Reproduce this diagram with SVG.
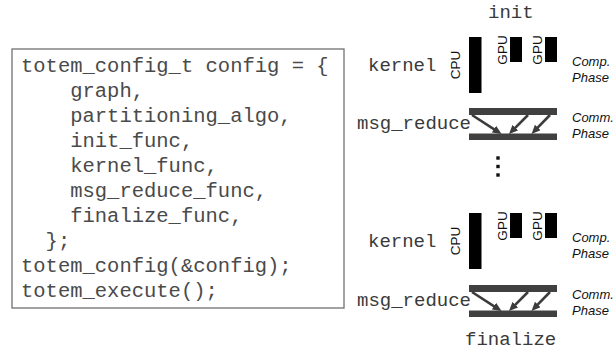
<svg xmlns="http://www.w3.org/2000/svg" width="616" height="351" viewBox="0 0 616 351">
  <style>
    .code { font-family: "Liberation Mono", "Courier New", monospace; font-size: 20.5px; fill: #4a4a4a; white-space: pre; }
    .fn { font-family: "Liberation Mono", "Courier New", monospace; font-size: 19px; fill: #3a3a3a; white-space: pre; }
    .dev { font-family: "Liberation Sans", Arial, sans-serif; font-size: 13.5px; fill: #111; text-anchor: middle; }
    .phase { font-family: "Liberation Sans", Arial, sans-serif; font-size: 13px; font-style: italic; fill: #111; }
    .bar { fill: #000; }
    .rbar { fill: #404040; }
    .flow { stroke: #3c3c3c; stroke-width: 2.6; fill: none; marker-end: url(#head); }
  </style>
  <defs>
    <marker id="head" markerUnits="userSpaceOnUse" viewBox="0 -4 9 8" refX="3" refY="0" markerWidth="9" markerHeight="8" orient="auto">
      <path d="M0,-4 L9,0 L0,4 z" fill="#3c3c3c"/>
    </marker>
  </defs>

  <rect width="616" height="351" fill="#fff"/>

  <!-- configuration listing -->
  <g id="code">
    <rect x="12" y="49" width="332" height="259" fill="#fff" stroke="#707070" stroke-width="1.3"/>
    <text class="code" x="21" y="72">totem_config_t config = {</text>
    <text class="code" x="21" y="97">    graph,</text>
    <text class="code" x="21" y="122">    partitioning_algo,</text>
    <text class="code" x="21" y="147">    init_func,</text>
    <text class="code" x="21" y="172">    kernel_func,</text>
    <text class="code" x="21" y="197">    msg_reduce_func,</text>
    <text class="code" x="21" y="222">    finalize_func,</text>
    <text class="code" x="21" y="247">  };</text>
    <text class="code" x="21" y="272">totem_config(&amp;config);</text>
    <text class="code" x="21" y="297">totem_execute();</text>
  </g>

  <g id="init">
    <text class="fn" x="488" y="18">init</text>
  </g>

  <!-- first superstep: computation -->
  <g id="kernel-1">
    <text class="fn" x="368" y="71">kernel</text>
    <text class="dev" transform="translate(460,65) rotate(-90)">CPU</text>
    <rect class="bar" x="469" y="37" width="12.5" height="56"/>
    <text class="dev" transform="translate(507,50) rotate(-90)">GPU</text>
    <rect class="bar" x="510" y="37" width="12" height="25"/>
    <text class="dev" transform="translate(542,50) rotate(-90)">GPU</text>
    <rect class="bar" x="545" y="37" width="12" height="25"/>
    <text class="phase" x="572" y="66">Comp.</text>
    <text class="phase" x="572" y="82">Phase</text>
  </g>

  <!-- first superstep: communication -->
  <g id="reduce-1">
    <text class="fn" x="357" y="129">msg_reduce</text>
    <rect class="rbar" x="469" y="108" width="88" height="7"/>
    <rect class="rbar" x="469" y="133.5" width="88" height="6.5"/>
    <text class="phase" x="572" y="122">Comm.</text>
    <text class="phase" x="572" y="138">Phase</text>
  </g>

  <g id="ellipsis">
    <rect x="496.3" y="156.3" width="3.4" height="3.4" fill="#111"/>
    <rect x="496.3" y="164.8" width="3.4" height="3.4" fill="#111"/>
    <rect x="496.3" y="173.3" width="3.4" height="3.4" fill="#111"/>
  </g>

  <!-- last superstep: computation -->
  <g id="kernel-2" transform="translate(0,176)">
    <text class="fn" x="368" y="71">kernel</text>
    <text class="dev" transform="translate(460,65) rotate(-90)">CPU</text>
    <rect class="bar" x="469" y="37" width="12.5" height="56"/>
    <text class="dev" transform="translate(507,50) rotate(-90)">GPU</text>
    <rect class="bar" x="510" y="37" width="12" height="25"/>
    <text class="dev" transform="translate(542,50) rotate(-90)">GPU</text>
    <rect class="bar" x="545" y="37" width="12" height="25"/>
    <text class="phase" x="572" y="66">Comp.</text>
    <text class="phase" x="572" y="82">Phase</text>
  </g>

  <!-- last superstep: communication -->
  <g id="reduce-2" transform="translate(0,177)">
    <text class="fn" x="357" y="129">msg_reduce</text>
    <rect class="rbar" x="469" y="108" width="88" height="7"/>
    <rect class="rbar" x="469" y="133.5" width="88" height="6.5"/>
    <text class="phase" x="572" y="122">Comm.</text>
    <text class="phase" x="572" y="138">Phase</text>
  </g>

  <g id="finalize">
    <text class="fn" x="465" y="345">finalize</text>
  </g>

  <!-- message flows between the reduce bars -->
  <g id="connectors">
    <line class="flow" x1="472" y1="115" x2="496.5" y2="130.8"/>
    <line class="flow" x1="528" y1="115" x2="513.2" y2="129.8"/>
    <line class="flow" x1="550" y1="115" x2="535.7" y2="129.7"/>
    <line class="flow" x1="472" y1="292" x2="496.5" y2="307.8"/>
    <line class="flow" x1="528" y1="292" x2="513.2" y2="306.8"/>
    <line class="flow" x1="550" y1="292" x2="535.7" y2="306.7"/>
  </g>
</svg>
